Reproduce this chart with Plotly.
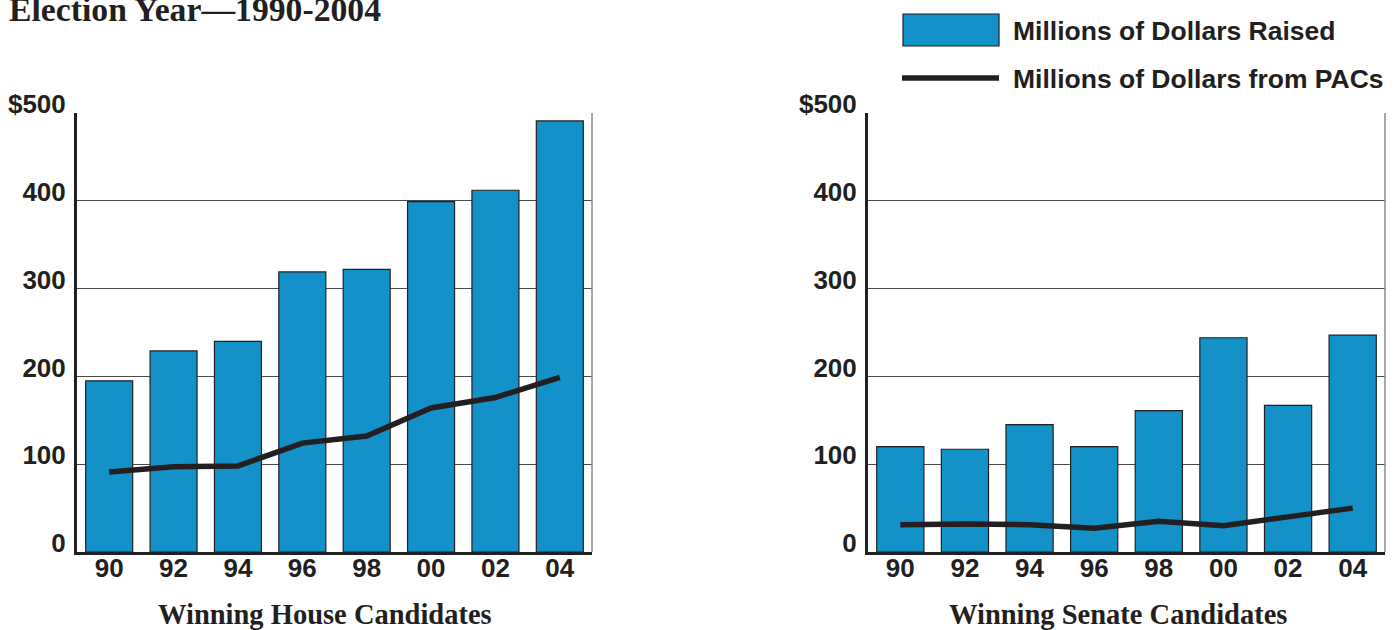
import plotly.graph_objects as go

# Election-year campaign finance, millions of dollars
years = ["90", "92", "94", "96", "98", "00", "02", "04"]
house_raised = [195, 229, 240, 319, 322, 399, 412, 491]
house_pacs = [91, 97, 98, 124, 132, 164, 176, 199]
senate_raised = [120, 117, 145, 120, 161, 244, 167, 247]
senate_pacs = [31, 32, 31, 27, 35, 30, 40, 50]

y_ticks = [0, 100, 200, 300, 400, 500]
y_tick_text = ["0", "100", "200", "300", "400", "$500"]

BAR_BLUE = "#1591c9"
INK = "#231f20"

W, H = 1398, 630
M_L, M_R, M_T, M_B = 77, 13, 113, 78
PW, PH = W - M_L - M_R, H - M_T - M_B


def px(x):
    return (x - M_L) / PW


def py(y):
    return (H - M_B - y) / PH


fig = go.Figure()

for xa, ya, raised, pacs in [("x", "y", house_raised, house_pacs),
                             ("x2", "y2", senate_raised, senate_pacs)]:
    fig.add_trace(go.Bar(x=years, y=raised, xaxis=xa, yaxis=ya,
                         marker=dict(color=BAR_BLUE, line=dict(color=INK, width=1.2)),
                         showlegend=False, hoverinfo="x+y"))
    fig.add_trace(go.Scatter(x=years, y=pacs, xaxis=xa, yaxis=ya, mode="lines",
                             line=dict(color=INK, width=5.5),
                             showlegend=False, hoverinfo="x+y"))

tick_font = dict(family="Liberation Sans, Arial, sans-serif", size=26,
                 color=INK, weight="bold")

x_common = dict(type="category", showgrid=False, showline=True, linecolor=INK,
                linewidth=3, ticks="", tickfont=tick_font, ticklabelstandoff=-9,
                automargin=False, fixedrange=True)
y_common = dict(range=[0, 500], tickvals=y_ticks, ticktext=y_tick_text,
                showgrid=True, gridcolor="#4a4a4a", gridwidth=1, zeroline=False,
                showline=True, linecolor=INK, linewidth=3, ticks="",
                tickfont=tick_font, ticklabelstandoff=3, ticklabelshift=-9,
                automargin=False, fixedrange=True)

fig.update_layout(
    width=W, height=H,
    margin=dict(l=M_L, r=M_R, t=M_T, b=M_B, autoexpand=False),
    paper_bgcolor="white", plot_bgcolor="white",
    bargap=0.27,
    xaxis=dict(domain=[0, px(592)], anchor="y", **x_common),
    yaxis=dict(anchor="x", **y_common),
    xaxis2=dict(domain=[px(868), 1], anchor="y2", **x_common),
    yaxis2=dict(anchor="x2", **y_common),
)

# thin right-hand frame edges
for xd, yd in [("x domain", "y"), ("x2 domain", "y2")]:
    fig.add_shape(type="line", xref=xd, yref=yd, x0=1, x1=1, y0=0, y1=500,
                  line=dict(color="#8a8a8a", width=1.5))

# legend drawn as swatches plus labels
fig.add_shape(type="rect", xref="paper", yref="paper",
              x0=px(903), x1=px(999), y0=py(46), y1=py(14),
              fillcolor=BAR_BLUE, line=dict(color=INK, width=1.2))
fig.add_shape(type="line", xref="paper", yref="paper",
              x0=px(902), x1=px(999), y0=py(78), y1=py(78),
              line=dict(color=INK, width=5.5))

legend_font = dict(family="Liberation Sans, Arial, sans-serif", size=26.5,
                   color=INK, weight="bold")
for label, yc in [("Millions of Dollars Raised", 31), ("Millions of Dollars from PACs", 79)]:
    fig.add_annotation(text=label, xref="paper", yref="paper", x=px(1011), y=py(yc),
                       xanchor="left", yanchor="middle", showarrow=False,
                       font=legend_font)

serif_font = dict(family="Liberation Serif, Times New Roman, serif", color=INK,
                  weight="bold")
fig.add_annotation(text="Election Year—1990-2004", xref="paper", yref="paper",
                   x=px(7), y=py(9), xanchor="left", yanchor="middle",
                   showarrow=False, font=dict(size=33.7, **serif_font))
for label, xc in [("Winning House Candidates", 325), ("Winning Senate Candidates", 1118)]:
    fig.add_annotation(text=label, xref="paper", yref="paper", x=px(xc), y=py(614),
                       xanchor="center", yanchor="middle", showarrow=False,
                       font=dict(size=28.5, **serif_font))

fig.write_html("out.html")
